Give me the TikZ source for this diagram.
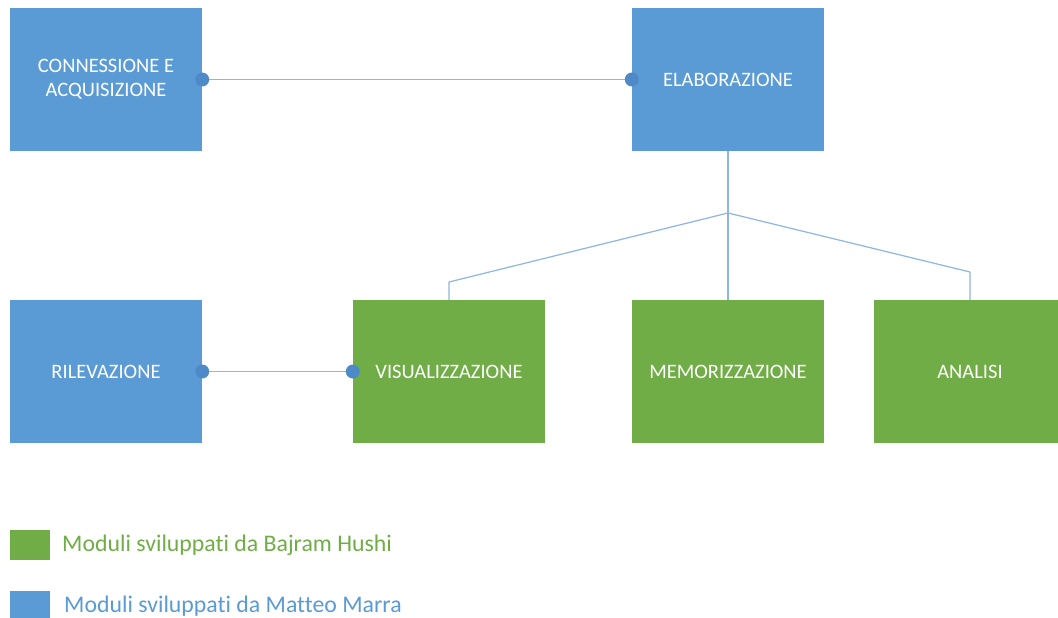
\documentclass[tikz,border=0pt]{standalone}
\usepackage{fontspec}
\setmainfont[Ligatures={NoCommon}]{Carlito}
\definecolor{modblue}{HTML}{5B9BD5}
\definecolor{modgreen}{HTML}{70AD47}
\definecolor{linkblue}{HTML}{8DB6E2}
\definecolor{dotblue}{HTML}{4F8AC8}
\begin{document}
\begin{tikzpicture}[x=1pt,y=-1pt,
  module/.style={rectangle, minimum width=192pt, minimum height=143pt, inner sep=0pt,
    text=white, font=\fontsize{20.5}{24}\selectfont, align=center},
  bluemod/.style={module, fill=modblue},
  greenmod/.style={module, fill=modgreen},
  link/.style={draw=linkblue, line width=1.6pt},
  enddot/.style={circle, fill=dotblue, minimum size=14pt, inner sep=0pt},
  swatch/.style={rectangle, minimum width=40pt, minimum height=30pt, inner sep=0pt},
  legendtext/.style={anchor=west, inner sep=0pt, font=\fontsize{23.8}{28}\selectfont}]
\useasboundingbox (0,0) rectangle (1058,618);
\fill[white] (0,0) rectangle (1058,618);

% modules
\node[bluemod] (con) at (106,79.5) {CONNESSIONE E\\ACQUISIZIONE};
\node[bluemod] (ela) at (728,79.5) {ELABORAZIONE};
\node[bluemod] (ril) at (106,371.5) {RILEVAZIONE};
\node[greenmod] (vis) at (449,371.5) {VISUALIZZAZIONE};
\node[greenmod] (mem) at (728,371.5) {MEMORIZZAZIONE};
\node[greenmod] (ana) at (970,371.5) {ANALISI};

% dot-ended links
\draw[link] (con.east) -- (ela.west);
\node[enddot] at (con.east) {};
\node[enddot] at (ela.west) {};
\draw[link] (ril.east) -- (vis.west);
\node[enddot] at (ril.east) {};
\node[enddot] at (vis.west) {};

% tree from ELABORAZIONE
\coordinate (j) at (728,213);
\draw[link, line width=1.2pt] (ela.south) -- (j);
\draw[link, line width=1.2pt, line join=round] (j) -- (vis.north |- 0,282) -- (vis.north);
\draw[link, line width=1.2pt] (j) -- (mem.north);
\draw[link, line width=1.2pt, line join=round] (j) -- (ana.north |- 0,272) -- (ana.north);

% legend
\node[swatch, fill=modgreen] (lg) at (30,544.5) {};
\node[legendtext, text=modgreen] (lgt) at (62,545) {Moduli sviluppati da Bajram Hushi};
\node[swatch, fill=modblue] (lb) at (30,606) {};
\node[legendtext, text=modblue] (lbt) at (64,606) {Moduli sviluppati da Matteo Marra};
\end{tikzpicture}
\end{document}
